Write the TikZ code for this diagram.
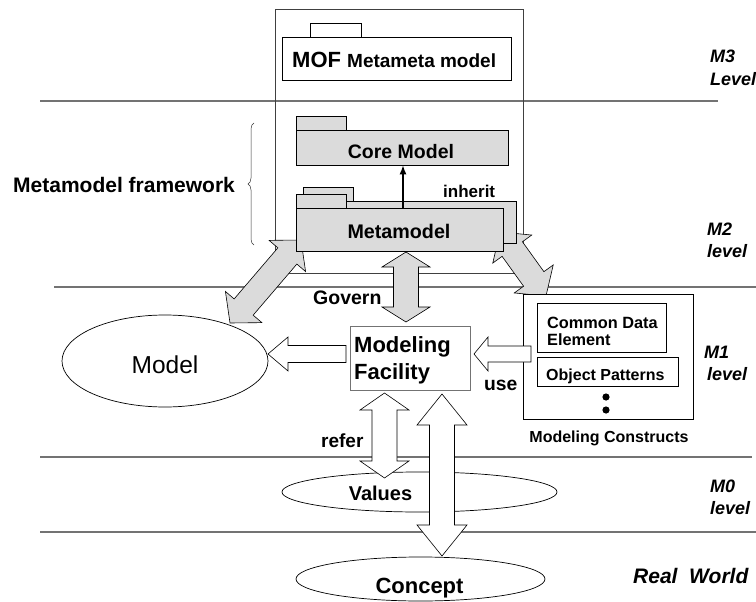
\documentclass[tikz,border=0pt]{standalone}
\usepackage{fontspec}
\setmainfont{Liberation Sans}
\usetikzlibrary{calc,decorations.pathreplacing,shapes.geometric,arrows.meta}
\newcommand{\fs}[1]{\fontsize{#1}{#1}\selectfont}
% double arrow polygon: style, A, B, half shaft, half head, head length
\newcommand{\mydblarrow}[6]{%
 \draw[#1] (#2) -- ($(#2)!#6!(#3)!#5!90:(#3)$) -- ($(#2)!#6!(#3)!#4!90:(#3)$)
  -- ($(#3)!#6!(#2)!#4!-90:(#2)$) -- ($(#3)!#6!(#2)!#5!-90:(#2)$) -- (#3)
  -- ($(#3)!#6!(#2)!#5!90:(#2)$) -- ($(#3)!#6!(#2)!#4!90:(#2)$)
  -- ($(#2)!#6!(#3)!#4!-90:(#3)$) -- ($(#2)!#6!(#3)!#5!-90:(#3)$) -- cycle;}
% single arrow polygon: style, tail, tip, half shaft, half head, head length
\newcommand{\mysglarrow}[6]{%
 \draw[#1] ($(#2)!#4!90:(#3)$) -- ($(#3)!#6!(#2)!#4!-90:(#2)$) -- ($(#3)!#6!(#2)!#5!-90:(#2)$)
  -- (#3) -- ($(#3)!#6!(#2)!#5!90:(#2)$) -- ($(#3)!#6!(#2)!#4!90:(#2)$)
  -- ($(#2)!#4!-90:(#3)$) -- cycle;}
\tikzset{
 lvl/.style={draw=black!55, line width=1.3pt},
 frame/.style={draw=black!75, line width=0.7pt, inner sep=0pt},
 bx/.style={draw=black, line width=0.8pt, fill=white, inner sep=0pt},
 pkg/.style={draw=black, fill=black!14, line width=0.7pt, inner sep=0pt},
 garrow/.style={draw=black, fill=black!14, line width=0.6pt},
 warrow/.style={draw=black, fill=white, line width=0.6pt},
 ell/.style={ellipse, draw=black, fill=white, line width=0.7pt, inner sep=0pt},
 txt/.style={inner sep=0pt, anchor=base west, font=\bfseries},
 ctxt/.style={inner sep=0pt, anchor=base, font=\bfseries},
 lev/.style={inner sep=0pt, anchor=base west, font=\bfseries\itshape\fs{18}},
}
\begin{document}
\begin{tikzpicture}[x=1pt,y=-1pt]
\useasboundingbox (0,0) rectangle (756,602);
% level lines
\coordinate (l1a) at (40,101); \coordinate (l1b) at (718,101);
\coordinate (l2a) at (54,287); \coordinate (l2b) at (756,287);
\coordinate (l3a) at (40,457); \coordinate (l3b) at (752,457);
\coordinate (l4a) at (40,532); \coordinate (l4b) at (756,532);
\draw[lvl] (l1a) -- (l1b);
\draw[lvl] (l2a) -- (l2b);
\draw[lvl] (l3a) -- (l3b);
\draw[lvl] (l4a) -- (l4b);
% outer M3 frame
\node[frame, minimum width=248pt, minimum height=264pt] (frame) at (399,141) {};
\node[bx, line width=0.7pt, minimum width=51pt, minimum height=14pt] (moftab) at (335.5,30) {};
\node[bx, line width=0.7pt, minimum width=229pt, minimum height=43pt] (mof) at (396.5,58.5) {};
\node[txt] (moftxt) at (292,68) {\fs{22}MOF\ \fs{19}Metameta model};
% gray double arrows
\coordinate (lgA) at (301,240); \coordinate (lgB) at (230,323);
\coordinate (mgA) at (406,252); \coordinate (mgB) at (406,322);
\coordinate (rgA) at (500,232); \coordinate (rgB) at (546,296);
\mydblarrow{garrow}{lgA}{lgB}{12.5pt}{24pt}{21pt}
\mydblarrow{garrow}{mgA}{mgB}{12.5pt}{24pt}{15pt}
\mydblarrow{garrow}{rgA}{rgB}{12.5pt}{24pt}{21pt}
% packages
\node[pkg, minimum width=50pt, minimum height=14pt] (coretab) at (321,123) {};
\node[pkg, minimum width=212pt, minimum height=35pt] (core) at (402,147.5) {};
\node[pkg, minimum width=50pt, minimum height=14pt] (mbtab) at (328,194) {};
\node[pkg, minimum width=213pt, minimum height=42pt] (metaback) at (409.5,222) {};
\node[pkg, minimum width=50pt, minimum height=14pt] (metatab) at (321,201) {};
\node[pkg, minimum width=207pt, minimum height=43pt] (meta) at (399.5,229.5) {};
\node[ctxt, font=\bfseries\fs{19.5}] (coretxt) at (401,158) {Core Model};
\node[ctxt, font=\bfseries\fs{19.7}] (metatxt) at (399,238) {Metamodel};
\coordinate (inh) at (403,0);
\draw[-{Latex[length=9pt,width=7pt]}, line width=1.3pt] (inh |- meta.north) -- (inh |- core.south);
\node[txt, font=\bfseries\fs{17}] (inhtxt) at (443,197) {inherit};
% brace and framework label
\coordinate (br1) at (254,245); \coordinate (br2) at (254,123);
\draw[decorate, decoration={brace, amplitude=6pt}, draw=black!80, line width=0.5pt] (br1) -- (br2);
\node[txt, font=\bfseries\fs{21}] (fw) at (13,193) {Metamodel framework};
% M1 level
\node[ell, minimum width=206pt, minimum height=92pt] (model) at (165,361) {};
\node[inner sep=0pt, anchor=base, font=\fs{24.5}] (modeltxt) at (165,373) {Model};
\node[draw=black!55, line width=0.8pt, fill=white, inner sep=0pt, minimum width=120pt, minimum height=64pt] (fac) at (410,358) {};
\node[txt, font=\bfseries\fs{22}] (fac1) at (354,352) {Modeling};
\node[txt, font=\bfseries\fs{22}] (fac2) at (354,379) {Facility};
\node[txt, font=\bfseries\fs{19.5}] (govern) at (313,304) {Govern};
\node[txt, font=\bfseries\fs{19.3}] (use) at (484,390) {use};
\node[bx, minimum width=170pt, minimum height=125pt] (cons) at (608,356.5) {};
\node[bx, minimum width=129pt, minimum height=49pt] (cde) at (601.5,327.5) {};
\node[bx, minimum width=141pt, minimum height=29pt] (objp) at (607.5,371.5) {};
\node[txt, font=\bfseries\fs{16.3}] (cde1) at (547,328) {Common Data};
\node[txt, font=\bfseries\fs{16.3}] (cde2) at (547,345) {Element};
\node[txt, font=\bfseries\fs{16}] (objtxt) at (546,380) {Object Patterns};
\fill (606,397) circle (3.6pt);
\fill (606,410) circle (3.6pt);
\node[ctxt, font=\bfseries\fs{16}] (constxt) at (609,442) {Modeling Constructs};
% white single arrows
\coordinate (fmA) at (346,354); \coordinate (fmB) at (268,354);
\coordinate (cfA) at (531,354); \coordinate (cfB) at (474,354);
\mysglarrow{warrow}{fmA}{fmB}{8.5pt}{17pt}{20pt}
\mysglarrow{warrow}{cfA}{cfB}{8pt}{17pt}{14pt}
% M0
\node[ell, minimum width=275pt, minimum height=40pt] (values) at (419.5,492) {};
\node[ctxt, font=\bfseries\fs{20}] (valtxt) at (380.5,500) {Values};
\coordinate (rfA) at (384.5,393); \coordinate (rfB) at (384.5,478);
\mydblarrow{warrow}{rfA}{rfB}{12.5pt}{24.5pt}{17pt}
\node[txt, font=\bfseries\fs{19}] (refer) at (321,447) {refer};
\coordinate (cpA) at (442,394); \coordinate (cpB) at (442,556);
\mydblarrow{warrow}{cpA}{cpB}{12.5pt}{25pt}{31pt}
% real world
\node[ell, minimum width=249pt, minimum height=44pt] (concept) at (420.5,579) {};
\node[ctxt, font=\bfseries\fs{22}] (conctxt) at (419.5,593) {Concept};
% level labels
\node[lev] (m3a) at (710,63) {M3};
\node[lev] (m3b) at (710,85) {Level};
\node[lev] (m2a) at (707,235) {M2};
\node[lev] (m2b) at (707,257) {level};
\node[lev] (m1a) at (704,358) {M1};
\node[lev] (m1b) at (707,380) {level};
\node[lev] (m0a) at (710,492) {M0};
\node[lev] (m0b) at (710,514) {level};
\node[lev, font=\bfseries\itshape\fs{21}] (rw) at (633,583) {Real\ \ World};
\end{tikzpicture}
\end{document}
